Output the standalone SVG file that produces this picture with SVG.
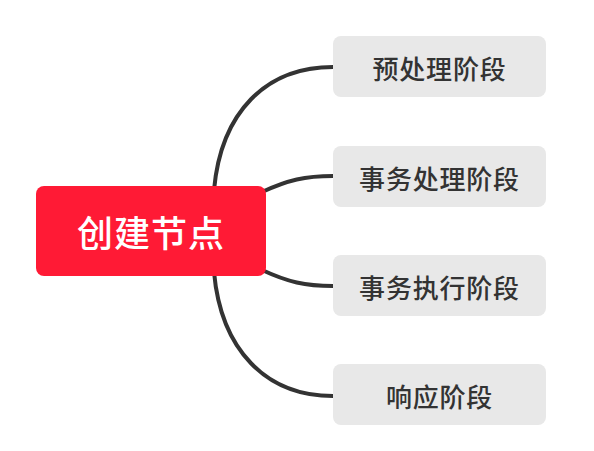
<svg xmlns="http://www.w3.org/2000/svg" width="594" height="451" viewBox="0 0 594 451">
<style>
.conn{fill:none;stroke:#333333;stroke-width:4;stroke-linecap:round}
.sub rect{fill:#e8e8e8}
.sub text{font-family:"Noto Sans CJK SC","Noto Sans",sans-serif;font-size:26px;font-weight:500;fill:#333333;text-anchor:middle;dominant-baseline:central;letter-spacing:0.8px}
.root text{font-family:"Noto Sans CJK SC","Noto Sans",sans-serif;font-size:36px;font-weight:500;fill:#ffffff;text-anchor:middle;dominant-baseline:central;letter-spacing:1px}
</style>
<rect width="594" height="451" fill="#ffffff"/>
<g id="connectors">
<path class="conn" d="M214,190 C221,112 266,67 333,67"/>
<path class="conn" d="M262,192 C288,180 305,176 333,176"/>
<path class="conn" d="M262,270 C288,282 305,286 333,286"/>
<path class="conn" d="M214,272 C221,350 266,396 333,396"/>
</g>
<g id="root" class="root">
<rect x="36" y="186" width="230" height="90" rx="8" fill="#ff1a35"/>
<text x="151" y="231">创建节点</text>
</g>
<g id="n1" class="sub">
<rect x="333" y="36" width="213" height="61" rx="8"/>
<text x="439.5" y="67">预处理阶段</text>
</g>
<g id="n2" class="sub">
<rect x="333" y="146" width="213" height="61" rx="8"/>
<text x="439.5" y="177">事务处理阶段</text>
</g>
<g id="n3" class="sub">
<rect x="333" y="255" width="213" height="61" rx="8"/>
<text x="439.5" y="286">事务执行阶段</text>
</g>
<g id="n4" class="sub">
<rect x="333" y="364" width="213" height="61" rx="8"/>
<text x="439.5" y="395">响应阶段</text>
</g>
</svg>
